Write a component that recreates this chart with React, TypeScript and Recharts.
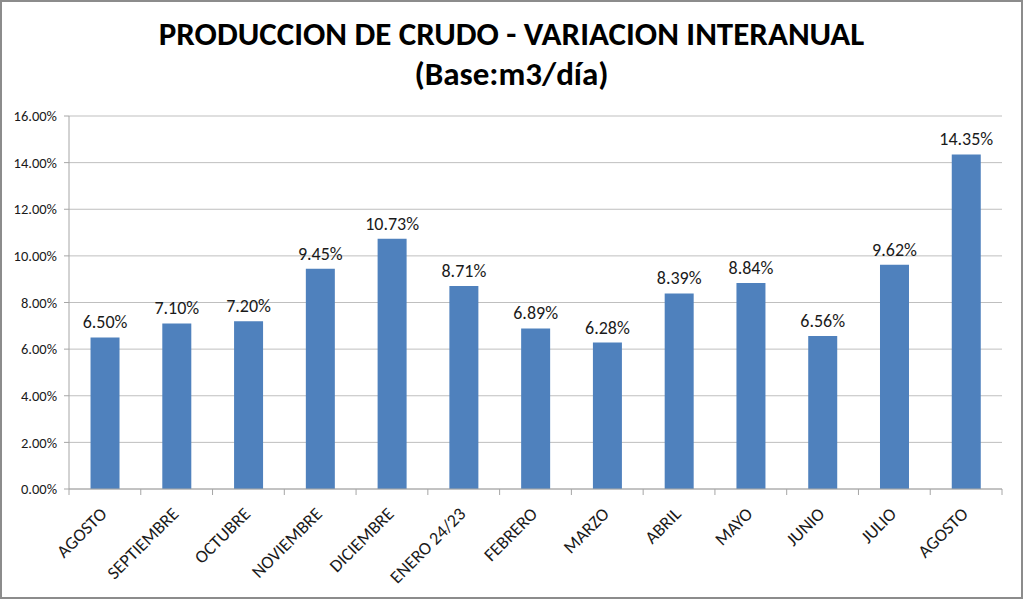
import React from "react";
import { BarChart, Bar, XAxis, YAxis, CartesianGrid, LabelList } from "recharts";

const months = [
  "AGOSTO",
  "SEPTIEMBRE",
  "OCTUBRE",
  "NOVIEMBRE",
  "DICIEMBRE",
  "ENERO 24/23",
  "FEBRERO",
  "MARZO",
  "ABRIL",
  "MAYO",
  "JUNIO",
  "JULIO",
  "AGOSTO",
];

const variation = [6.5, 7.1, 7.2, 9.45, 10.73, 8.71, 6.89, 6.28, 8.39, 8.84, 6.56, 9.62, 14.35];

const yTicks = [0, 2, 4, 6, 8, 10, 12, 14, 16];

const data = months.map((m, i) => ({ key: `${m}-${i}`, name: m, value: variation[i] }));

const FONT = "Carlito, Calibri, 'Liberation Sans Narrow', 'Open Sans', sans-serif";
const AXIS = "#a6a6a6";
const BAND = (1002 - 69) / months.length;

const MonthTick = (props: any) => {
  const { x, y, payload, index } = props;
  const left = x - BAND / 2;
  const ax = x + 3;
  const ay = y + 18;
  return (
    <g>
      <line x1={left} y1={y - 8} x2={left} y2={y - 2} stroke={AXIS} />
      {index === months.length - 1 && (
        <line x1={x + BAND / 2} y1={y - 8} x2={x + BAND / 2} y2={y - 2} stroke={AXIS} />
      )}
      <text
        x={ax}
        y={ay}
        textAnchor="end"
        transform={`rotate(-45, ${ax}, ${ay})`}
        fill="#1a1a1a"
        fontSize={18}
        fontFamily={FONT}
      >
        {months[index] ?? payload.value}
      </text>
    </g>
  );
};

export default function App() {
  return (
    <div
      style={{
        position: "absolute",
        left: 0,
        top: 0,
        width: 1023,
        height: 599,
        boxSizing: "border-box",
        border: "2px solid #8c8c8c",
        background: "#fff",
        fontFamily: FONT,
      }}
    >
      <div
        style={{
          position: "absolute",
          left: 0,
          right: 0,
          top: 12,
          textAlign: "center",
          fontWeight: "bold",
          fontSize: 33,
          lineHeight: "40px",
          color: "#000",
        }}
      >
        PRODUCCION DE CRUDO - VARIACION INTERANUAL
        <br />
        (Base:m3/día)
      </div>
      <div style={{ position: "absolute", left: -2, top: -2 }}>
        <BarChart
          width={1023}
          height={599}
          data={data}
          margin={{ top: 116, right: 21, bottom: 10, left: 0 }}
          barCategoryGap="30%"
        >
          <CartesianGrid vertical={false} stroke="#bfbfbf" />
          <XAxis
            dataKey="key"
            interval={0}
            height={100}
            tick={<MonthTick />}
            tickLine={false}
            axisLine={{ stroke: AXIS }}
          />
          <YAxis
            width={69}
            domain={[0, 16]}
            ticks={yTicks}
            tickFormatter={(v: number) => `${v.toFixed(2)}%`}
            tick={{ fill: "#1a1a1a", fontSize: 14.5, fontFamily: FONT }}
            tickLine={{ stroke: AXIS }}
            tickSize={5}
            tickMargin={7}
            axisLine={{ stroke: AXIS }}
          />
          <Bar dataKey="value" fill="#4f81bd" isAnimationActive={false}>
            <LabelList
              dataKey="value"
              position="top"
              offset={9}
              formatter={(v: any) => `${Number(v).toFixed(2)}%`}
              style={{ fill: "#1a1a1a", fontSize: 18, fontFamily: FONT }}
            />
          </Bar>
        </BarChart>
      </div>
    </div>
  );
}
